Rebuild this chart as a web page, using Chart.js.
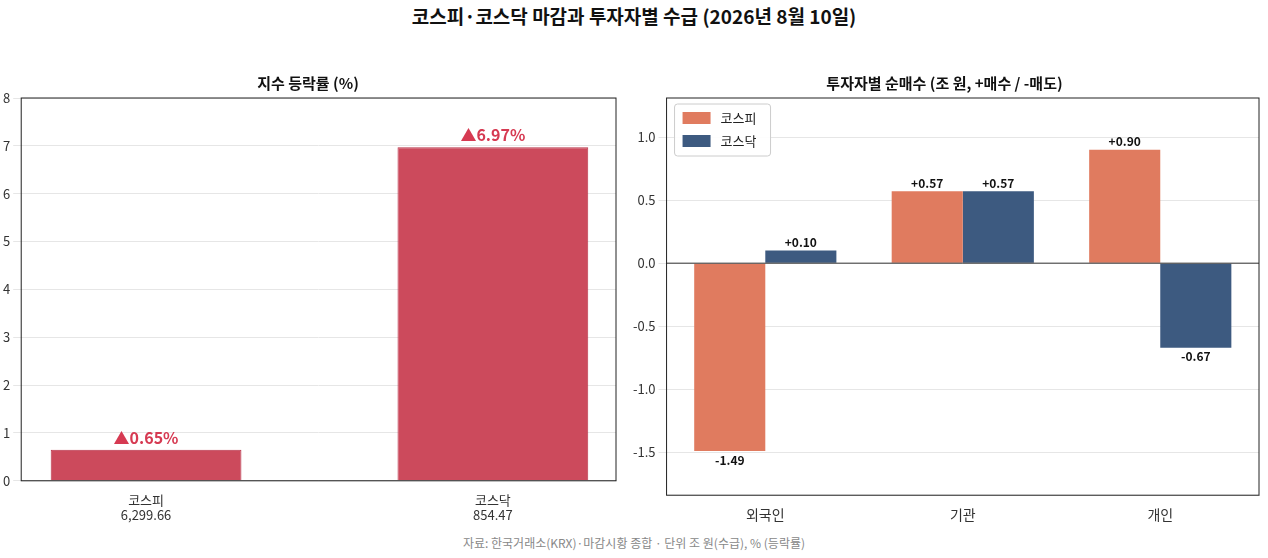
<!DOCTYPE html>
<html><head><meta charset="utf-8">
<script src="https://cdn.jsdelivr.net/npm/chart.js@4/dist/chart.umd.min.js"></script>
<style>
body{margin:0;width:1268px;height:558px;background:#fff;font-family:"Noto Sans CJK KR",sans-serif;position:relative;overflow:hidden}
#t{position:absolute;top:2px;left:0;width:1268px;text-align:center;font-size:19px;font-weight:bold;color:#111}
#f{position:absolute;top:534px;left:0;width:1268px;text-align:center;font-size:12px;color:#888}
.c{position:absolute}
</style></head><body>
<div id="t">코스피·코스닥 마감과 투자자별 수급 (2026년 8월 10일)</div>
<div class="c" style="left:0;top:70px;width:630px;height:460px"><canvas id="a"></canvas></div>
<div class="c" style="left:630px;top:70px;width:638px;height:460px"><canvas id="b"></canvas></div>
<div id="f">자료: 한국거래소(KRX)·마감시황 종합 · 단위 조 원(수급), % (등락률)</div>
<script>
const idxLabels=[['코스피','6,299.66'],['코스닥','854.47']];
const idxChange=[0.65,6.97];
const investors=['외국인','기관','개인'];
const kospiFlow=[-1.49,0.57,0.90];
const kosdaqFlow=[0.10,0.57,-0.67];
const F='"Noto Sans CJK KR", sans-serif';
Chart.defaults.font.family=F;
Chart.defaults.color='#222';
const labelPlugin={id:'lbl',afterDatasetsDraw(ch,args,opts){
  const ctx=ch.ctx;ctx.save();
  ch.data.datasets.forEach((ds,i)=>{ch.getDatasetMeta(i).data.forEach((el,j)=>{
    const d=ds.data[j];const v=typeof d==='object'?d.y:d;ctx.textAlign='center';
    if(opts.mode==='pct'){ctx.font='bold 16px '+F;ctx.fillStyle='#d63a52';ctx.textBaseline='bottom';ctx.fillText('▲'+v.toFixed(2)+'%',el.x,el.y-4);}
    else{ctx.font='bold 12px '+F;ctx.fillStyle='#111';
      if(v>=0){ctx.textBaseline='bottom';ctx.fillText('+'+v.toFixed(2),el.x,el.y-2);}
      else{ctx.textBaseline='top';ctx.fillText(v.toFixed(2),el.x,el.y+3);}}
  });});ctx.restore();}};
const zeroLine={id:'zl',afterDatasetsDraw(ch){const y=ch.scales.y.getPixelForValue(0),a=ch.chartArea,c=ch.ctx;
  c.save();c.strokeStyle='#333';c.lineWidth=1;c.beginPath();c.moveTo(a.left,y);c.lineTo(a.right,y);c.stroke();c.restore();}};
const border={id:'bd',afterDraw(ch){const a=ch.chartArea,c=ch.ctx;c.save();c.strokeStyle='#222';c.lineWidth=1;c.strokeRect(a.left,a.top,a.right-a.left,a.bottom-a.top);c.restore();}};
const legendIn={id:'li',afterDraw(ch){const a=ch.chartArea,c=ch.ctx;c.save();
  const x=a.left+8,y=a.top+6,w=96,h=52;
  c.fillStyle='rgba(255,255,255,0.9)';c.strokeStyle='#ccc';c.lineWidth=1;c.beginPath();c.roundRect(x,y,w,h,3);c.fill();c.stroke();
  ch.data.datasets.forEach((ds,i)=>{const yy=y+8+i*23;c.fillStyle=ds.backgroundColor;c.fillRect(x+8,yy,28,12);
    c.fillStyle='#222';c.font='13px '+F;c.textBaseline='middle';c.textAlign='left';c.fillText(ds.label,x+46,yy+6);});
  c.restore();}};
new Chart(document.getElementById('a'),{type:'bar',
 data:{datasets:[{data:idxChange.map((v,i)=>({x:i,y:v})),backgroundColor:'#cc4a5c',borderColor:'#b83248',borderWidth:1,barPercentage:0.55,categoryPercentage:1}]},
 options:{responsive:true,maintainAspectRatio:false,animation:false,
  layout:{padding:{left:0,right:14,top:0,bottom:4}},
  plugins:{legend:{display:false},tooltip:{enabled:false},lbl:{mode:'pct'},
   title:{display:true,text:'지수 등락률 (%)',font:{size:15,weight:'bold'},color:'#111',padding:{top:4,bottom:6}}},
  scales:{x:{type:'linear',min:-0.36,max:1.355,offset:false,grid:{display:false},
    afterBuildTicks(s){s.ticks=[{value:0},{value:1}];},
    ticks:{font:{size:13},color:'#333',callback:v=>idxLabels[v]}},
   y:{min:0,max:8,ticks:{stepSize:1,font:{size:13},color:'#333'},grid:{color:'#e6e6e6'},border:{display:false}}}},
 plugins:[labelPlugin,border]});
new Chart(document.getElementById('b'),{type:'bar',
 data:{labels:investors,datasets:[
  {label:'코스피',data:kospiFlow,backgroundColor:'#e07b5f',barPercentage:1,categoryPercentage:0.72},
  {label:'코스닥',data:kosdaqFlow,backgroundColor:'#3d5a80',barPercentage:1,categoryPercentage:0.72}]},
 options:{responsive:true,maintainAspectRatio:false,animation:false,
  layout:{padding:{left:0,right:9,top:0,bottom:4}},
  plugins:{lbl:{mode:'num'},legend:{display:false},
   title:{display:true,text:'투자자별 순매수 (조 원, +매수 / -매도)',font:{size:15,weight:'bold'},color:'#111',padding:{top:4,bottom:6}}},
  scales:{x:{grid:{display:false},ticks:{font:{size:14},color:'#333'}},
   y:{min:-1.84,max:1.31,afterBuildTicks(s){s.ticks=[-1.5,-1,-0.5,0,0.5,1].map(v=>({value:v}));},
    ticks:{font:{size:13},color:'#333',callback:v=>v.toFixed(1)},grid:{color:'#e6e6e6'},border:{display:false}}}},
 plugins:[labelPlugin,zeroLine,border,legendIn]});
</script></body></html>
